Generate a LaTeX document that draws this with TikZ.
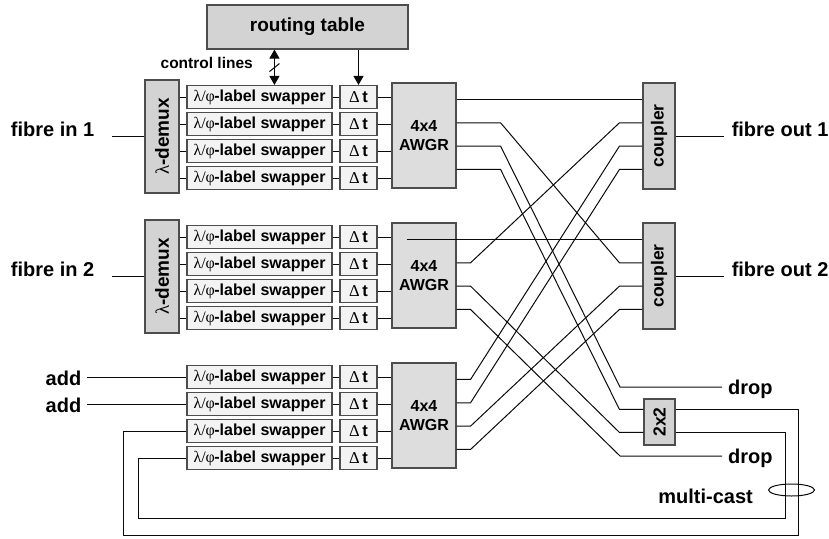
\documentclass[tikz,border=0pt]{standalone}
\usepackage{graphicx}
\usepackage{fontspec}
\setmainfont{Liberation Sans}
\newfontfamily\grk{Liberation Serif}
\usetikzlibrary{arrows.meta,calc,shapes.geometric}

\definecolor{boxline}{HTML}{4D4D4D}
\definecolor{darkfill}{HTML}{D3D3D3}
\definecolor{awgrfill}{HTML}{DDDDDD}
\definecolor{lightfill}{HTML}{F3F3F3}
\definecolor{wirecol}{HTML}{0A0A0A}

\newcommand\setfs[1]{\fontsize{#1}{#1}\selectfont}

\begin{document}
\begin{tikzpicture}[x=1pt,y=-1pt,
  box/.style={draw=boxline, line width=1.1pt, inner sep=0pt},
  darkbox/.style={box, fill=darkfill, font=\bfseries\setfs{17.5}},
  awgrbox/.style={box, fill=awgrfill, minimum width=64, minimum height=105,
    align=center, font=\bfseries\fontsize{16}{19}\selectfont},
  swbox/.style={box, fill=lightfill, minimum width=145, minimum height=23,
    font=\bfseries\setfs{16}},
  dtbox/.style={box, fill=lightfill, minimum width=37, minimum height=23,
    font=\bfseries\setfs{16.5}},
  wire/.style={draw=wirecol, line width=1pt},
  ctrl/.style={wire, -{Triangle[length=9pt,width=10pt]}},
  ctrlboth/.style={wire, {Triangle[length=9pt,width=10pt]}-{Triangle[length=9pt,width=10pt]}},
  lbl/.style={inner sep=0pt, font=\bfseries\setfs{20}},
]
\useasboundingbox (0,0) rectangle (829,538);

% routing table and its control lines
\node[darkbox, minimum width=201, minimum height=44, font=\bfseries\setfs{19}]
  (rt) at (307.5,27) {routing table};

% three input blocks: label swappers, delay stages and AWGRs
\foreach \k in {0,1,2}{
  \node[awgrbox] (aw\k) at (424,{135.5+140*\k}) {4x4\\AWGR};
  \foreach \i in {0,...,3}{
    \node[swbox] (sw\k\i) at (259.5,{97+140*\k+27*\i})
      {{\mdseries\grk λ/φ}\kern-0.6pt-label swapper};
    \node[dtbox] (dt\k\i) at (358.5,{97+140*\k+27*\i})
      {{\mdseries\grk Δ}\,t};
    \draw[wire] (sw\k\i) -- (dt\k\i);
    \draw[wire] (dt\k\i.east) -- (dt\k\i -| aw\k.west);
  }
  \foreach \j in {0,...,3}{
    \coordinate (o\k\j) at ($(aw\k.north east)+(0,{17+23.33*\j})$);
  }
}

% wavelength demultiplexers on the fibre inputs
\foreach \k/\n in {0/1,1/2}{
  \node[darkbox, minimum width=34, minimum height=113, font=\bfseries\setfs{19}]
    (dm\k) at (162,{136.5+140*\k}) {\rotatebox{90}{{\mdseries\grk λ}-demux}};
  \foreach \i in {0,...,3}{
    \draw[wire] (dm\k.east |- sw\k\i) -- (sw\k\i.west);
  }
  \coordinate (fin\k) at ($(dm\k.west)+(-32,0)$);
  \draw[wire] (fin\k) -- (dm\k.west);
  \node[lbl, anchor=base east] (finl\k) at ($(fin\k)+(-18,0)$) {fibre in \n};
}

% couplers on the fibre outputs
\foreach \k/\n in {0/1,1/2}{
  \node[darkbox, minimum width=32, minimum height=106]
    (cp\k) at (659,{136+140*\k}) {\rotatebox{90}{coupler}};
  \foreach \j in {0,...,3}{
    \coordinate (ci\k\j) at ($(cp\k.north west)+(0,{17+23.33*\j})$);
  }
  \coordinate (fout\k) at ($(cp\k.east)+(48,0)$);
  \draw[wire] (cp\k.east) -- (fout\k);
  \node[lbl, anchor=base west] (foutl\k) at ($(fout\k)+(8,0)$) {fibre out \n};
}

% control lines from the routing table
\coordinate (ctl) at ($(rt.south west)+(68,0)$);
\draw[ctrlboth] (ctl) -- (ctl |- sw00.north);
\draw[wire] ($(ctl)+(-5,22)$) -- ($(ctl)+(5,14)$);
\draw[ctrl] (rt.south -| dt00) -- (dt00.north);
\node[inner sep=0pt, anchor=base east, font=\bfseries\setfs{15.5}]
  (ctll) at (253,68.5) {control lines};

% 2x2 multicast switch and drop ports
\node[darkbox, minimum width=31, minimum height=46] (sx) at (659.5,422)
  {\rotatebox{90}{2x2}};
\coordinate (sxi0) at ($(sx.north west)+(0,11)$);
\coordinate (sxi1) at ($(sx.north west)+(0,34)$);
\coordinate (sxo0) at ($(sx.north east)+(0,11)$);
\coordinate (sxo1) at ($(sx.north east)+(0,34)$);
\coordinate (drop0) at (722,387);
\coordinate (drop1) at (722,456);
\node[lbl, anchor=base west] (dropl0) at ($(drop0)+(6,7)$) {drop};
\node[lbl, anchor=base west] (dropl1) at ($(drop1)+(6,7)$) {drop};

% AWGR 1 outputs
\draw[wire] (o00) -- (ci00);
\draw[wire] (o01) -- ++(44,0) -- ($(ci11)+(-23,0)$) -- (ci11);
\draw[wire] (o02) -- ++(44,0) -- ($(drop0)+(-102,0)$) -- (drop0);
\draw[wire] (o03) -- ++(44,0) -- ($(sxi0)+(-24,0)$) -- (sxi0);
% AWGR 2 outputs
\draw[wire] ($(o10)+(-50,0)$) -- (ci10);
\draw[wire] (o11) -- ++(14,0) -- ($(ci01)+(-23,0)$) -- (ci01);
\draw[wire] (o12) -- ++(14,0) -- ($(sxi1)+(-24,0)$) -- (sxi1);
\draw[wire] (o13) -- ++(14,0) -- ($(drop1)+(-102,0)$) -- (drop1);
% AWGR 3 outputs
\draw[wire] (o20) -- ++(14,0) -- ($(ci02)+(-23,0)$) -- (ci02);
\draw[wire] (o21) -- ++(14,0) -- ($(ci03)+(-23,0)$) -- (ci03);
\draw[wire] (o22) -- ++(14,0) -- ($(ci12)+(-23,0)$) -- (ci12);
\draw[wire] (o23) -- ++(14,0) -- ($(ci13)+(-23,0)$) -- (ci13);

% add ports
\foreach \i in {0,1}{
  \coordinate (add\i) at ($(sw2\i.west)+(-99,0)$);
  \draw[wire] (add\i) -- (sw2\i.west);
  \node[lbl, anchor=base east] (addl\i) at ($(add\i)+(-6,8)$) {add};
}

% multicast loop-back fibres
\draw[wire] (sxo0) -| (798,535) -| ($(sw22.west)+(-63,0)$) -- (sw22.west);
\draw[wire] (sxo1) -| (785,518) -| ($(sw23.west)+(-48,0)$) -- (sw23.west);
\node[draw=wirecol, line width=1pt, ellipse, minimum width=46, minimum height=12,
  inner sep=0pt] (mc) at (791.5,490) {};
\node[lbl, anchor=base east] (mcl) at (753,503) {multi-cast};
\end{tikzpicture}
\end{document}
